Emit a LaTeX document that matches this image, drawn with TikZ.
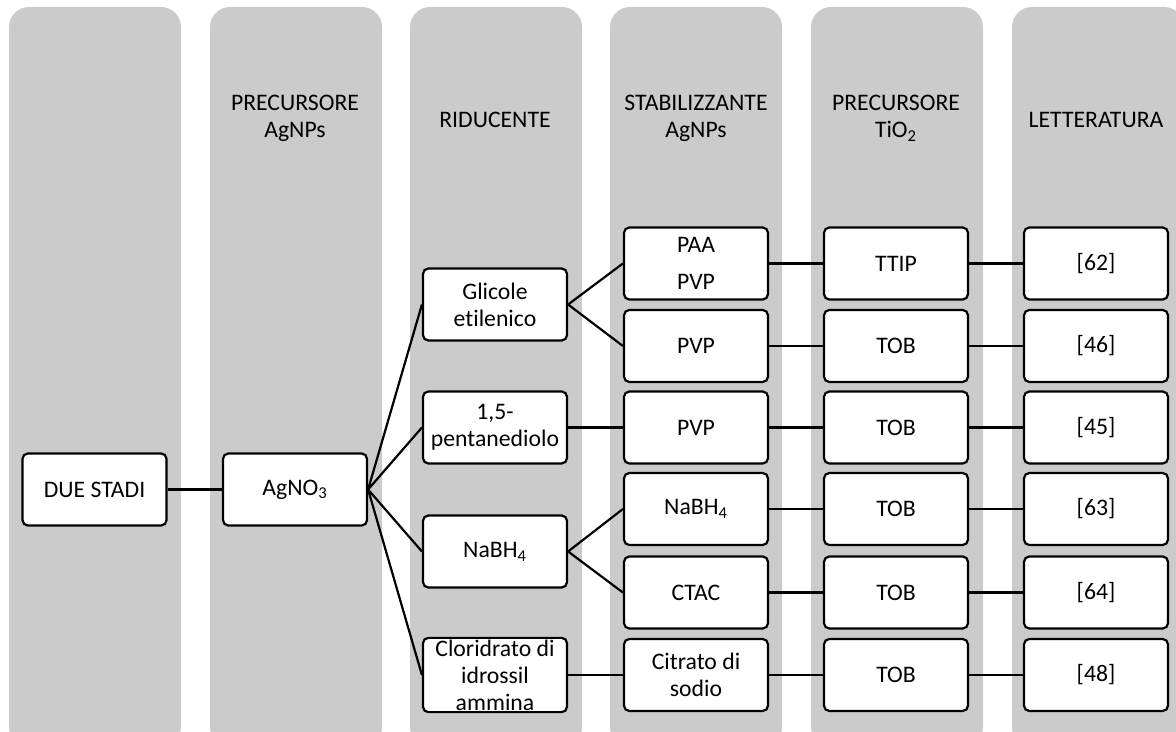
\documentclass[tikz,border=0pt]{standalone}
\usepackage{fontspec}
\setmainfont{Carlito}[RawFeature=-liga]
\usepackage{xcolor}
\definecolor{colgray}{HTML}{CBCBCB}

\tikzset{
  txt/.style={font=\fontsize{13.5}{15.4}\selectfont},
  box/.style={txt, draw, line width=1.25pt, rounded corners=3pt, fill=white,
    minimum width=2.88cm, minimum height=1.44cm, align=center, inner sep=1pt},
  head/.style={txt, align=center},
  col/.style={fill=colgray, rounded corners=0.4cm},
  link/.style={line width=1.25pt}
}

\begin{document}
\begin{tikzpicture}[x=0.02cm, y=-0.02cm]
    \useasboundingbox (0,0) rectangle (1176,732);
    \begin{scope}
      \clip (0,0) rectangle (1176,732);
      \foreach \x in {9,210,410,610,811,1012}
        \fill[col] (\x,7) rectangle ++(172,740);
    \end{scope}

    % column titles
    \node[head] (h2) at (295,118) {PRECURSORE\\AgNPs};
    \node[head] (h3) at (495,120) {RIDUCENTE};
    \node[head] (h4) at (696,118) {STABILIZZANTE\\AgNPs};
    \node[head] (h5) at (896,118) {PRECURSORE\\TiO\textsubscript{2}};
    \node[head] (h6) at (1096,120) {LETTERATURA};

    \node[box] (due) at (94.5,489.5) {DUE STADI};
    \node[box] (agno) at (295,489.5) {AgNO\textsubscript{3}};

    \node[box] (gli) at (495,304.5) {Glicole\\etilenico};
    \node[box] (pent) at (495,427.5) {1,5-\\pentanediolo};
    \node[box] (nabh) at (495,551.5) {NaBH\textsubscript{4}};
    \node[box] (clor) at (495,675) {Cloridrato di\\idrossil\\ammina};

    \node[box] (paa) at (696,263.5) {PAA\\[6pt]PVP};
    \node[box] (pvpa) at (696,346) {PVP};
    \node[box] (pvpb) at (696,427.5) {PVP};
    \node[box] (nabhs) at (696,509) {NaBH\textsubscript{4}};
    \node[box] (ctac) at (696,592.5) {CTAC};
    \node[box] (citr) at (696,675) {Citrato di\\sodio};

    \node[box] (ttip) at (896,263.5) {TTIP};
    \node[box] (toba) at (896,346) {TOB};
    \node[box] (tobb) at (896,427.5) {TOB};
    \node[box] (tobc) at (896,509) {TOB};
    \node[box] (tobd) at (896,592.5) {TOB};
    \node[box] (tobe) at (896,675) {TOB};

    \node[box] (r62) at (1096,263.5) {[62]};
    \node[box] (r46) at (1096,346) {[46]};
    \node[box] (r45) at (1096,427.5) {[45]};
    \node[box] (r63) at (1096,509) {[63]};
    \node[box] (r64) at (1096,592.5) {[64]};
    \node[box] (r48) at (1096,675) {[48]};

    \draw[link] (due) -- (agno);
    \draw[link] (agno.east) -- (gli.west)
    (agno.east) -- (pent.west)
    (agno.east) -- (nabh.west)
    (agno.east) -- (clor.west);
    \draw[link] (gli.east) -- (paa.west)
    (gli.east) -- (pvpa.west)
    (nabh.east) -- (nabhs.west)
    (nabh.east) -- (ctac.west);
    \draw[link] (pent) -- (pvpb)
    (clor) -- (citr);
    \draw[link] (paa) -- (ttip) -- (r62)
    (pvpa) -- (toba) -- (r46)
    (pvpb) -- (tobb) -- (r45)
    (nabhs) -- (tobc) -- (r63)
    (ctac) -- (tobd) -- (r64)
    (citr) -- (tobe) -- (r48);
  \end{tikzpicture}
\end{document}
